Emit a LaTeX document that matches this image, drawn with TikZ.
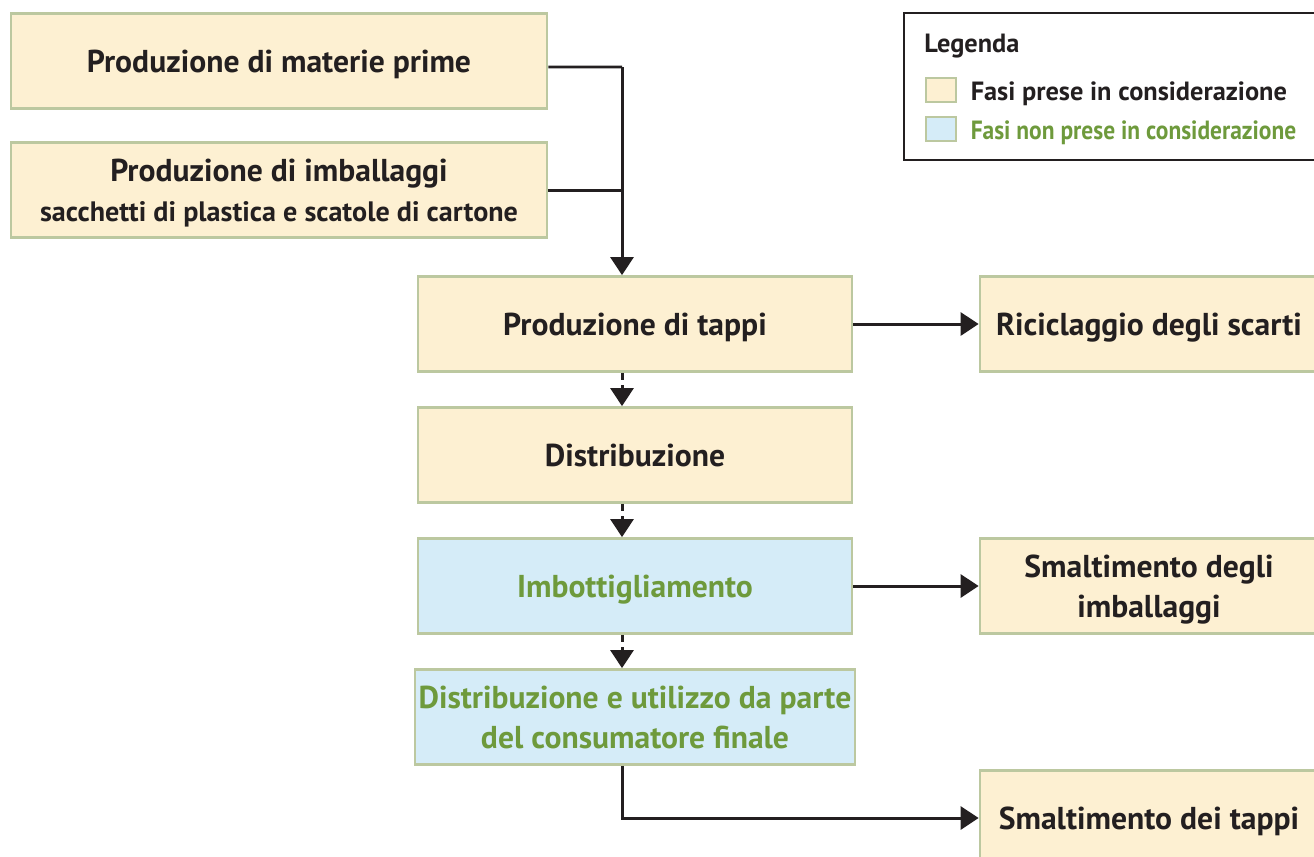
\documentclass[tikz,border=0pt]{standalone}
\usepackage{fontspec}
\setmainfont{PT Sans}
\usetikzlibrary{arrows.meta,positioning}
\definecolor{cream}{HTML}{FDF0D2}
\definecolor{sky}{HTML}{D5ECF8}
\definecolor{edge}{HTML}{BCC8A0}
\definecolor{ink}{HTML}{231F20}
\definecolor{leaf}{HTML}{6E9A3C}
\tikzset{
  phase/.style={draw=edge, line width=1.6pt, fill=cream, minimum height=1.9cm, inner sep=2pt,
    text depth=0pt, align=center, text=ink, font=\bfseries\fontsize{18}{22.5}\selectfont},
  skipped/.style={phase, fill=sky, text=leaf},
  link/.style={line width=1.7pt, draw=ink},
  flow/.style={link, -{Triangle[width=0.46cm,length=0.36cm]}},
  gap/.style={flow, dash pattern=on 4pt off 3pt},
  swatch/.style={draw=edge, line width=1.6pt, minimum width=0.6cm, minimum height=0.48cm, inner sep=0pt},
  legtext/.style={text=ink, font=\bfseries\fontsize{15}{18}\selectfont, inner sep=0pt}
}
\begin{document}
\begin{tikzpicture}[x=0.02cm,y=-0.02cm]
  \clip (0,0) rectangle (1314,856);
  \node[phase, minimum width=10.72cm] (raw) at (279,61) {Produzione di materie prime};
  \node[phase, minimum width=10.72cm] (pack) at (279,190) {Produzione di imballaggi\\{\fontsize{16}{23}\selectfont sacchetti di plastica e scatole di cartone}};
  \node[phase, minimum width=8.68cm] (caps) at (635,324) {Produzione di tappi};
  \node[phase, minimum width=6.76cm] (recyc) at (1149,324) {Riciclaggio degli scarti};
  \node[phase, minimum width=8.68cm] (distr) at (635,455) {Distribuzione};
  \node[skipped, minimum width=8.68cm] (bottl) at (635,586) {Imbottigliamento};
  \node[phase, minimum width=6.76cm] (wpack) at (1149,586) {Smaltimento degli\\imballaggi};
  \node[skipped, minimum width=8.68cm] (use) at (635,717) {Distribuzione e utilizzo da parte\\del consumatore finale};
  \node[phase, minimum width=6.76cm] (wcaps) at (1149,818) {Smaltimento dei tappi};

  \coordinate (feed) at (622,67);
  \draw[link] ([yshift=-0.12cm]raw.east) -- (feed);
  \draw[link] (pack.east) -- (feed |- pack.east);
  \draw[flow] (feed) -- (feed |- caps.north);
  \draw[gap] (feed |- caps.south) -- (feed |- distr.north);
  \draw[gap] (feed |- distr.south) -- (feed |- bottl.north);
  \draw[gap] (feed |- bottl.south) -- (feed |- use.north);
  \draw[flow] (caps) -- (recyc);
  \draw[flow] (bottl) -- (wpack);
  \draw[flow] (feed |- use.south) |- (wcaps);

  \node[draw=ink, line width=0.8pt, minimum width=8.28cm, minimum height=2.94cm] (legend) at (1111,86.5) {};
  \node[legtext, anchor=west] (legtitle) at (924,46) {Legenda};
  \node[swatch, fill=cream] (swyes) at (941,90) {};
  \node[swatch, fill=sky] (swno) at (941,129) {};
  \node[legtext, right=0.26cm of swyes, yshift=-0.08cm] (yes) {Fasi prese in considerazione};
  \node[legtext, right=0.26cm of swno, yshift=-0.08cm, text=leaf] (no) {\scalebox{0.89}[1]{Fasi non prese in considerazione}};
\end{tikzpicture}
\end{document}
